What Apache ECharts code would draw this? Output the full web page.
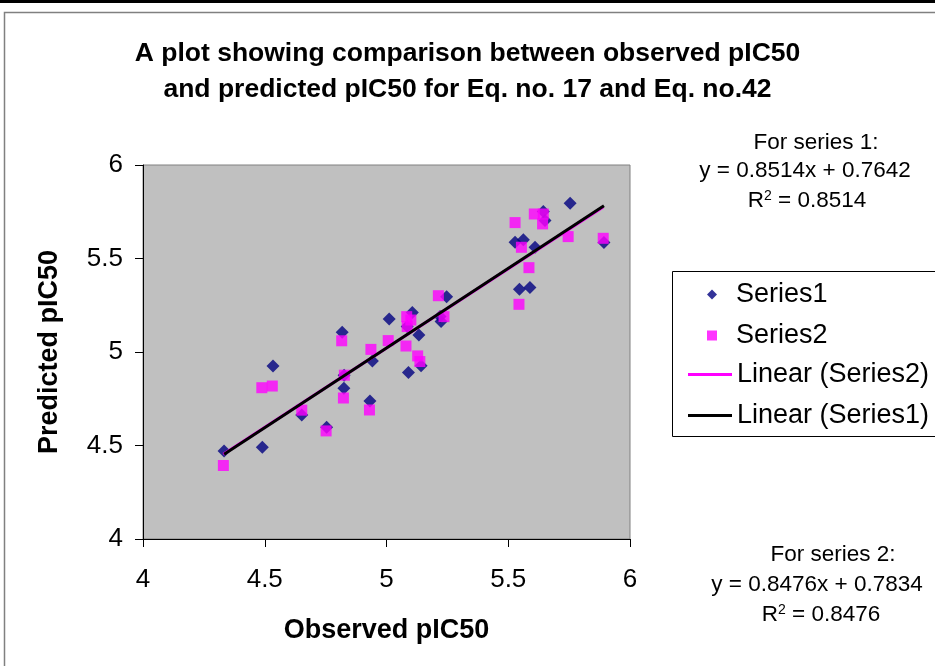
<!DOCTYPE html>
<html>
<head>
<meta charset="utf-8">
<script src="https://cdn.jsdelivr.net/npm/echarts@6/dist/echarts.min.js"></script>
<style>html,body{margin:0;padding:0;background:#fff;}#c{width:935px;height:666px;}</style>
</head>
<body>
<div id="c"></div>
<script>
const titleLines = ['A plot showing comparison between observed pIC50', 'and predicted pIC50 for Eq. no. 17 and Eq. no.42'];
const xTitle = 'Observed pIC50';
const yTitle = 'Predicted pIC50';
const seriesNames = ['Series1', 'Series2', 'Linear (Series2)', 'Linear (Series1)'];

const s1Observed = [4.333, 4.49, 4.534, 4.652, 4.754, 4.818, 4.825, 4.826, 4.932, 4.942, 5.011, 5.085, 5.09, 5.106, 5.133, 5.142, 5.22, 5.224, 5.247, 5.528, 5.546, 5.562, 5.589, 5.61, 5.644, 5.651, 5.754, 5.893];
const s1Predicted = [4.471, 4.49, 4.925, 4.663, 4.597, 5.105, 4.806, 4.876, 4.738, 4.952, 5.176, 5.136, 4.89, 5.211, 5.091, 4.927, 5.19, 5.163, 5.296, 5.587, 5.335, 5.6, 5.345, 5.56, 5.751, 5.703, 5.795, 5.585];

const s2Observed = [4.33, 4.488, 4.531, 4.652, 4.752, 4.816, 4.823, 4.827, 4.93, 4.936, 5.007, 5.08, 5.083, 5.085, 5.1, 5.128, 5.137, 5.213, 5.236, 5.528, 5.544, 5.554, 5.585, 5.607, 5.641, 5.644, 5.746, 5.89];
const s2Predicted = [4.393, 4.809, 4.818, 4.689, 4.578, 5.06, 4.754, 4.876, 4.69, 5.014, 5.061, 5.032, 5.189, 5.136, 5.171, 4.979, 4.949, 5.301, 5.189, 5.692, 5.255, 5.56, 5.451, 5.738, 5.685, 5.738, 5.617, 5.608];

const fit1 = { label: 'For series 1:', slope: 0.8514, intercept: 0.7642, r2: '0.8514' };
const fit2 = { label: 'For series 2:', slope: 0.8476, intercept: 0.7834, r2: '0.8476' };

const xTicks = { min: 4, max: 6, interval: 0.5 };
const yTicks = { min: 4, max: 6, interval: 0.5 };

function pairs(xs, ys) { return xs.map((x, i) => [x, ys[i]]); }
function fitLine(xs, fit) {
  const lo = Math.min(...xs), hi = Math.max(...xs);
  return [[lo, fit.slope * lo + fit.intercept], [hi, fit.slope * hi + fit.intercept]];
}
function fmt(n) { return n.toFixed(4); }

const FONT = 'Arial, "Liberation Sans", sans-serif';
const chart = echarts.init(document.getElementById('c'), null, { renderer: 'canvas' });

function txt(x, y, text) {
  return { type: 'text', x: x, y: y, z: 100, style: { text: text, font: '22.5px ' + FONT, fill: '#000', align: 'center', verticalAlign: 'middle' } };
}
function r2txt(x, y, val) {
  return {
    type: 'text', x: x, y: y, z: 100,
    style: {
      align: 'center', verticalAlign: 'middle',
      text: '{b|R}{s|2}{b| = ' + val + '}',
      rich: {
        b: { fontSize: 22.5, fontFamily: FONT, fill: '#000', color: '#000' },
        s: { fontSize: 14, fontFamily: FONT, fill: '#000', color: '#000', verticalAlign: 'top', padding: [0, 0, 10, 0] }
      }
    }
  };
}

chart.setOption({
  backgroundColor: '#fff',
  animation: false,
  title: {
    text: titleLines.join('\n'),
    left: 'center',
    top: 31,
    textStyle: { fontSize: 26.5, fontWeight: 'bold', fontFamily: FONT, color: '#000', lineHeight: 36 }
  },
  graphic: [
    { type: 'rect', shape: { x: 0, y: 0, width: 935, height: 3 }, style: { fill: '#000' }, z: 100 },
    { type: 'rect', shape: { x: 4.5, y: 12.5, width: 940, height: 700 }, style: { fill: 'none', stroke: '#808080', lineWidth: 1.5 }, z: 100 },
    { type: 'rect', shape: { x: 672.5, y: 271.5, width: 280, height: 165 }, style: { fill: 'none', stroke: '#000', lineWidth: 1 }, z: 100 },
    txt(816, 143, fit1.label),
    txt(805, 171, 'y = ' + fmt(fit1.slope) + 'x + ' + fmt(fit1.intercept)),
    r2txt(807, 201, fit1.r2),
    txt(833, 555, fit2.label),
    txt(817, 585, 'y = ' + fmt(fit2.slope) + 'x + ' + fmt(fit2.intercept)),
    r2txt(821, 615, fit2.r2)
  ],
  legend: [
    {
      data: [{ name: seriesNames[0], icon: 'diamond' }, { name: seriesNames[1], icon: 'rect' }],
      orient: 'vertical', left: 702, top: 276, itemWidth: 10, itemHeight: 10, itemGap: 14,
      formatter: n => '{a|' + n + '}',
      textStyle: { rich: { a: { fontSize: 27, fontFamily: FONT, color: '#000', padding: [0, 0, 0, 14] } } }
    },
    {
      data: [{ name: seriesNames[2], icon: 'path://M0,0H44V3H0Z' }, { name: seriesNames[3], icon: 'path://M0,0H44V3H0Z' }],
      orient: 'vertical', left: 683, top: 356, itemWidth: 44, itemHeight: 3, itemGap: 14,
      formatter: n => '{a|' + n + '}',
      textStyle: { rich: { a: { fontSize: 27, fontFamily: FONT, color: '#000', padding: [0, 0, 0, 0] } } }
    }
  ],
  grid: {
    left: 143, top: 165, right: 305, bottom: 127,
    show: true, backgroundColor: '#C0C0C0', borderColor: '#808080', borderWidth: 1
  },
  xAxis: {
    type: 'value', min: xTicks.min, max: xTicks.max, interval: xTicks.interval,
    name: xTitle, nameLocation: 'middle', nameGap: 78,
    nameTextStyle: { fontSize: 27, fontWeight: 'bold', fontFamily: FONT, color: '#000' },
    axisLine: { show: true, onZero: false, lineStyle: { color: '#000', width: 1 } },
    axisTick: { show: true, length: 8, lineStyle: { color: '#000' } },
    axisLabel: { fontSize: 26, fontFamily: FONT, color: '#000', margin: 28 },
    splitLine: { show: false }
  },
  yAxis: {
    type: 'value', min: yTicks.min, max: yTicks.max, interval: yTicks.interval,
    name: yTitle, nameLocation: 'middle', nameGap: 80,
    nameTextStyle: { fontSize: 27, fontWeight: 'bold', fontFamily: FONT, color: '#000' },
    axisLine: { show: true, onZero: false, lineStyle: { color: '#000', width: 1 } },
    axisTick: { show: true, length: 8, lineStyle: { color: '#000' } },
    axisLabel: { fontSize: 26, fontFamily: FONT, color: '#000', margin: 20 },
    splitLine: { show: false }
  },
  series: [
    { name: seriesNames[0], type: 'scatter', symbol: 'diamond', symbolSize: 13, color: '#000080', itemStyle: { color: '#000080' }, data: pairs(s1Observed, s1Predicted), z: 2 },
    { name: seriesNames[1], type: 'scatter', symbol: 'rect', symbolSize: 11, color: '#FF00FF', itemStyle: { color: '#FF00FF' }, data: pairs(s2Observed, s2Predicted), z: 3 },
    { name: seriesNames[2], type: 'line', color: '#FF00FF', showSymbol: false, symbol: 'none', lineStyle: { color: '#FF00FF', width: 3 }, data: fitLine(s2Observed, fit2), z: 4 },
    { name: seriesNames[3], type: 'line', color: '#000000', showSymbol: false, symbol: 'none', lineStyle: { color: '#000000', width: 3 }, data: fitLine(s1Observed, fit1), z: 5 }
  ]
});
</script>
</body>
</html>
